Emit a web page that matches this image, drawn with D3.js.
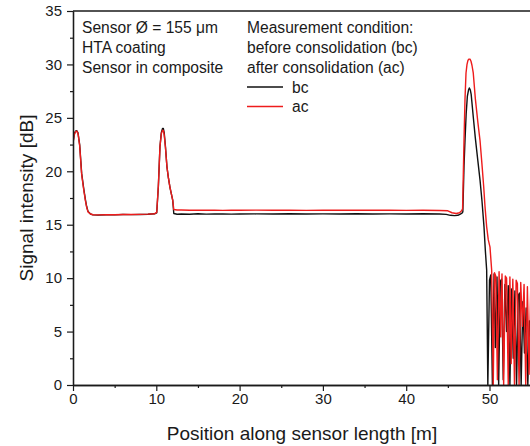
<!DOCTYPE html>
<html>
<head>
<meta charset="utf-8">
<script src="https://cdn.jsdelivr.net/npm/d3@7"></script>
<style>
  html, body { margin: 0; padding: 0; background: #fff; }
  svg { display: block; }
  text { font-family: "Liberation Sans", Arial, sans-serif; fill: #1a1a1a; }
</style>
</head>
<body>
<svg id="chart" width="530" height="446"></svg>
<script>
// Axis ticks
const xMajorTicks = [0, 10, 20, 30, 40, 50];
const xMinorTicks = [5, 15, 25, 35, 45];
const yMajorTicks = [0, 5, 10, 15, 20, 25, 30, 35];
const yMinorTicks = [2.5, 7.5, 12.5, 17.5, 22.5, 27.5, 32.5];

// Annotation and legend text
const infoLines = ["Sensor Ø = 155 μm", "HTA coating", "Sensor in composite"];
const conditionLines = ["Measurement condition:", "before consolidation (bc)", "after consolidation (ac)"];
const seriesNames = ["bc", "ac"];
const seriesColors = ["#111111", "#ee1c1c"];

// Before consolidation (bc): position [m] and signal intensity [dB]
const posBC = [0, 0.15, 0.3, 0.45, 0.6, 0.8, 1.04, 1.3, 1.5, 1.64, 1.8, 2.1, 2.4, 3.0, 4.0, 5.0, 6.0, 7.0, 8.0, 9.0, 9.8, 10.05,
  10.25, 10.44, 10.6, 10.75, 10.85, 10.95, 11.1, 11.28, 11.45, 11.64, 11.8, 11.97, 12.1, 12.5,
  13, 14, 15, 16, 17, 18, 19, 20, 22, 24, 26, 28, 30, 32, 34, 36, 38, 40, 42, 44, 44.8, 45.3, 45.8, 46.2, 46.5, 46.7, 46.8,
  46.94, 47.06, 47.2, 47.34, 47.48, 47.58, 47.7, 47.8, 48.05, 48.3, 48.6, 48.86, 49.1, 49.34, 49.5, 49.66,
  49.8, 50.0, 50.15, 50.35, 50.55, 50.7, 50.9, 51.1, 51.3, 51.45, 51.65, 51.85, 52.05, 52.25, 52.45, 52.65,
  52.85, 53.05, 53.25, 53.45, 53.6, 53.8, 54.0, 54.2, 54.4, 54.6, 54.8, 55.0];
const sigBC = [22.7, 23.5, 23.75, 23.8, 23.6, 22.5, 19.8, 18.3, 17.3, 16.7, 16.25, 16.0, 15.92, 15.9, 15.93, 15.92, 15.95, 15.94, 15.96, 15.98, 16.02, 16.1,
  18.6, 22.3, 23.6, 24.0, 24.0, 23.6, 22.3, 20.4, 19.4, 18.5, 17.9, 17.3, 16.05, 15.98,
  16.0, 15.98, 16.02, 15.99, 16.0, 16.01, 15.99, 16.0, 16.01, 16.0, 16.02, 16.0, 16.01, 16.0, 16.02, 16.0, 16.01, 16.0, 16.02, 16.0, 15.97, 15.88, 15.85, 15.88, 16.0, 16.08, 16.2,
  20.5, 22.9, 25.4, 27.0, 27.6, 27.8, 27.6, 27.2, 25.1, 23.1, 21.0, 19.2, 17.2, 14.8, 12.6, 10.75,
  0.0, 9.8, 10.3, 0.0, 10.4, 3.5, 10.1, 0.0, 9.7, 9.9, 0.5, 9.4, 5.0, 9.3, 0.0, 9.0,
  2.5, 8.8, 0.0, 8.4, 8.6, 0.0, 7.8, 3.0, 7.2, 0.0, 6.0, 0.0];

// After consolidation (ac): position [m] and signal intensity [dB]
const posAC = [0, 0.15, 0.3, 0.45, 0.6, 0.8, 1.04, 1.3, 1.5, 1.64, 1.8, 2.1, 2.4, 3.0, 4.0, 5.0, 6.0, 7.0, 8.0, 9.0, 9.8, 10.05,
  10.25, 10.44, 10.6, 10.75, 10.85, 10.95, 11.1, 11.28, 11.45, 11.64, 11.8, 11.97, 12.1, 12.5,
  13, 14, 15, 16, 17, 18, 19, 20, 22, 24, 26, 28, 30, 32, 34, 36, 38, 40, 42, 44, 45.0, 45.5, 46.0, 46.4, 46.65, 46.77,
  46.94, 47.06, 47.18, 47.3, 47.42, 47.54, 47.66, 47.78, 47.9, 48.05, 48.3, 48.6, 48.86, 49.1, 49.3, 49.46, 49.66,
  49.85, 50.06, 50.26, 50.45, 50.6, 50.75, 50.95, 51.15, 51.35, 51.5, 51.7, 51.9, 52.05, 52.25, 52.45, 52.6,
  52.8, 53.0, 53.2, 53.35, 53.55, 53.75, 53.95, 54.15, 54.35, 54.55, 54.75, 54.95];
const sigAC = [22.6, 23.4, 23.7, 23.75, 23.55, 22.4, 19.7, 18.2, 17.2, 16.65, 16.2, 16.0, 15.93, 15.92, 15.94, 15.93, 15.96, 15.95, 15.97, 15.99, 16.03, 16.15,
  18.7, 22.3, 23.5, 23.85, 23.8, 23.4, 22.2, 20.4, 19.4, 18.5, 17.9, 17.3, 16.42, 16.38,
  16.38, 16.35, 16.37, 16.35, 16.36, 16.34, 16.36, 16.35, 16.37, 16.35, 16.36, 16.34, 16.36, 16.35, 16.37, 16.35, 16.36, 16.34, 16.35, 16.33, 16.3, 16.12, 16.05, 16.12, 16.3, 16.5,
  22.9, 26.8, 29.2, 30.0, 30.4, 30.5, 30.5, 30.3, 29.9, 29.2, 26.8, 24.6, 22.9, 20.6, 18.6, 16.7, 14.8,
  13.6, 12.9, 10.75, 0.0, 10.5, 10.2, 0.5, 10.6, 4.5, 10.4, 0.0, 10.2, 10.0, 0.0, 10.1, 2.0,
  9.9, 0.0, 9.8, 9.5, 0.0, 9.6, 5.5, 9.4, 0.0, 9.2, 1.0, 9.0];

const svg = d3.select("#chart");
const margin = { left: 73, top: 11, bottom: 385 };

const x = d3.scaleLinear().domain([0, 55]).range([margin.left, margin.left + 55 * 8.33]);
const y = d3.scaleLinear().domain([0, 35]).range([margin.bottom, margin.top]);

// Clip region for the data traces
svg.append("clipPath").attr("id", "plot-clip")
  .append("rect")
  .attr("x", x(0)).attr("y", y(35))
  .attr("width", 530 - x(0)).attr("height", y(0) - y(35));

const line = d3.line().x(d => x(d[0])).y(d => y(d[1]));

const traces = svg.append("g").attr("clip-path", "url(#plot-clip)");
const seriesData = [d3.zip(posBC, sigBC), d3.zip(posAC, sigAC)];
seriesData.forEach((pts, i) => {
  traces.append("path")
    .datum(pts)
    .attr("d", line)
    .attr("fill", "none")
    .attr("stroke", seriesColors[i])
    .attr("stroke-width", 1.4)
    .attr("stroke-linejoin", "round");
});

// Axes
const axisColor = "#1a1a1a";
svg.append("g").attr("transform", `translate(${x(0)},0)`)
  .call(d3.axisLeft(y).tickValues(yMajorTicks).tickSize(6).tickPadding(5).tickSizeOuter(0));
svg.append("g").attr("transform", `translate(${x(0)},0)`)
  .call(d3.axisLeft(y).tickValues(yMinorTicks).tickSize(3).tickFormat("").tickSizeOuter(0));

svg.append("g").attr("transform", `translate(0,${y(0)})`)
  .call(d3.axisBottom(x).tickValues(xMajorTicks).tickSize(6).tickPadding(2).tickSizeOuter(0));
svg.append("g").attr("transform", `translate(0,${y(0)})`)
  .call(d3.axisBottom(x).tickValues(xMinorTicks).tickSize(3).tickFormat("").tickSizeOuter(0));

svg.selectAll(".domain").attr("stroke", axisColor).attr("stroke-width", 1.3);
svg.selectAll(".tick line").attr("stroke", axisColor).attr("stroke-width", 1.2);
svg.selectAll(".tick text").attr("font-size", 15).attr("font-family", "Liberation Sans, Arial, sans-serif").attr("fill", "#1a1a1a");

// Top frame line
svg.append("line")
  .attr("x1", x(0)).attr("x2", 530)
  .attr("y1", y(35)).attr("y2", y(35))
  .attr("stroke", axisColor).attr("stroke-width", 1.3);

// Axis titles
svg.append("text")
  .attr("x", 302).attr("y", 440)
  .attr("text-anchor", "middle").attr("font-size", 19)
  .text("Position along sensor length [m]");

svg.append("text")
  .attr("transform", `translate(33,${(y(0) + y(35)) / 2}) rotate(-90)`)
  .attr("text-anchor", "middle").attr("font-size", 19)
  .text("Signal intensity [dB]");

// Sensor annotation
svg.append("g").selectAll("text").data(infoLines).join("text")
  .attr("x", 82).attr("y", (d, i) => 33.3 + i * 19.7)
  .attr("font-size", 15.6)
  .text(d => d);

// Legend
svg.append("g").selectAll("text").data(conditionLines).join("text")
  .attr("x", 247).attr("y", (d, i) => 33.3 + i * 19.7)
  .attr("font-size", 15.6)
  .text(d => d);

const legendRows = svg.append("g").selectAll("g").data(seriesNames).join("g")
  .attr("transform", (d, i) => `translate(0,${87 + i * 19.5})`);
legendRows.append("line")
  .attr("x1", 247).attr("x2", 283)
  .attr("stroke", (d, i) => seriesColors[i]).attr("stroke-width", 1.3);
legendRows.append("text")
  .attr("x", 292).attr("y", 5.5)
  .attr("font-size", 15.6)
  .text(d => d);
</script>
</body>
</html>
